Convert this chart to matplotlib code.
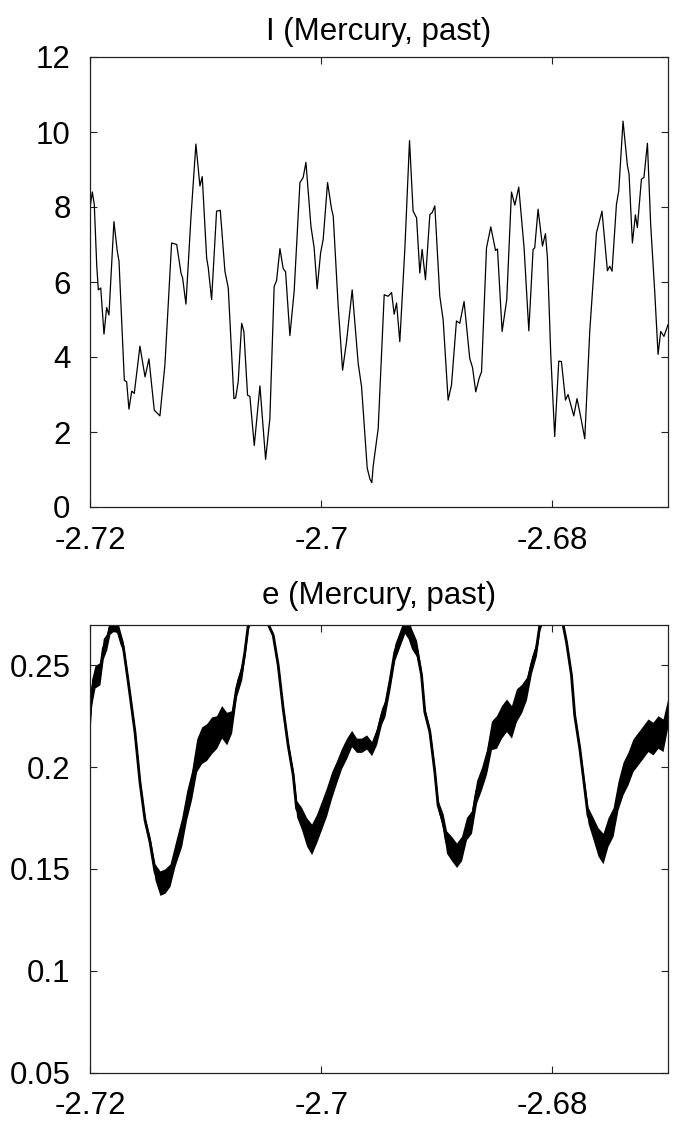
import matplotlib
matplotlib.use("Agg")
import matplotlib.pyplot as plt
import numpy as np

plt.rcParams['font.family'] = ['Liberation Sans', 'DejaVu Sans']

# ---------------- data: inclination I (degrees) ----------------
t_I = [-2.72000, -2.71980, -2.71963, -2.71942, -2.71928, -2.71907, -2.71879, -2.71856,
       -2.71836, -2.71793, -2.71764, -2.71749, -2.71703, -2.71683, -2.71663, -2.71639,
       -2.71617, -2.71568, -2.71524, -2.71490, -2.71444, -2.71395, -2.71352, -2.71294,
       -2.71250, -2.71213, -2.71199, -2.71170, -2.71127, -2.71084, -2.71049, -2.71029,
       -2.70991, -2.70977, -2.70948, -2.70905, -2.70873, -2.70833, -2.70804, -2.70755,
       -2.70740, -2.70718, -2.70688, -2.70669, -2.70637, -2.70617, -2.70579, -2.70530,
       -2.70481, -2.70444, -2.70407, -2.70386, -2.70357, -2.70329, -2.70308, -2.70271,
       -2.70234, -2.70184, -2.70156, -2.70132, -2.70089, -2.70061, -2.70035, -2.70005,
       -2.69983, -2.69945, -2.69910, -2.69896, -2.69853, -2.69815, -2.69781, -2.69732,
       -2.69680, -2.69651, -2.69602, -2.69579, -2.69562, -2.69550, -2.69507, -2.69455,
       -2.69421, -2.69391, -2.69369, -2.69348, -2.69320, -2.69276, -2.69236, -2.69205,
       -2.69175, -2.69147, -2.69127, -2.69098, -2.69060, -2.69040, -2.69017, -2.68974,
       -2.68945, -2.68902, -2.68873, -2.68830, -2.68801, -2.68764, -2.68715, -2.68691,
       -2.68663, -2.68634, -2.68613, -2.68570, -2.68533, -2.68492, -2.68475, -2.68435,
       -2.68395, -2.68354, -2.68325, -2.68291, -2.68245, -2.68204, -2.68167, -2.68153,
       -2.68124, -2.68086, -2.68060, -2.68043, -2.68014, -2.67980, -2.67945, -2.67922,
       -2.67887, -2.67865, -2.67815, -2.67787, -2.67755, -2.67720, -2.67677, -2.67619,
       -2.67571, -2.67524, -2.67504, -2.67484, -2.67446, -2.67426, -2.67389, -2.67351,
       -2.67337, -2.67308, -2.67282, -2.67265, -2.67230, -2.67208, -2.67178, -2.67150,
       -2.67115, -2.67086, -2.67063, -2.67035, -2.67000]
I_vals = [7.98, 8.40, 8.07, 6.46, 5.79, 5.84, 4.61, 5.32,
          5.12, 7.61, 6.82, 6.55, 3.38, 3.34, 2.61, 3.09,
          3.03, 4.29, 3.47, 3.95, 2.58, 2.43, 3.79, 7.04,
          7.00, 6.24, 6.11, 5.41, 7.71, 9.68, 8.56, 8.81,
          6.64, 6.38, 5.53, 7.89, 7.91, 6.29, 5.84, 2.89,
          2.91, 3.34, 4.90, 4.68, 2.98, 2.95, 1.64, 3.23,
          1.27, 2.36, 5.88, 6.04, 6.89, 6.36, 6.27, 4.57,
          5.75, 8.65, 8.79, 9.19, 7.49, 6.91, 5.82, 6.78,
          7.13, 8.65, 7.94, 7.76, 5.35, 3.65, 4.41, 5.79,
          3.83, 3.21, 1.04, 0.75, 0.65, 1.10, 2.09, 5.66,
          5.62, 5.72, 5.14, 5.44, 4.41, 6.91, 9.77, 7.89,
          7.71, 6.24, 6.87, 6.06, 7.80, 7.85, 8.03, 5.62,
          4.99, 2.85, 3.25, 4.96, 4.90, 5.48, 3.96, 3.72,
          3.07, 3.43, 3.61, 6.91, 7.47, 6.84, 6.88, 4.68,
          5.53, 8.40, 8.05, 8.53, 6.91, 4.70, 6.87, 6.91,
          7.94, 6.96, 7.29, 6.64, 4.05, 1.88, 3.89, 3.88,
          2.85, 3.00, 2.43, 2.89, 2.40, 1.82, 4.68, 7.31,
          7.89, 6.30, 6.42, 6.29, 8.07, 8.43, 10.29, 9.10,
          8.88, 7.04, 7.79, 7.45, 8.74, 8.79, 9.70, 7.54,
          5.75, 4.07, 4.68, 4.55, 4.86]

# ---------------- data: eccentricity e (mean and noise half-band) ----------------
t_e = [-2.72000, -2.71985, -2.71957, -2.71914, -2.71885, -2.71856, -2.71827, -2.71799,
       -2.71769, -2.71741, -2.71712, -2.71669, -2.71611, -2.71568, -2.71524, -2.71481,
       -2.71438, -2.71395, -2.71352, -2.71308, -2.71265, -2.71207, -2.71164, -2.71121,
       -2.71077, -2.71034, -2.70991, -2.70948, -2.70905, -2.70861, -2.70818, -2.70775,
       -2.70732, -2.70688, -2.70660, -2.70631, -2.70548, -2.70458, -2.70415, -2.70372,
       -2.70329, -2.70286, -2.70242, -2.70213, -2.70170, -2.70126, -2.70083, -2.70040,
       -2.69997, -2.69954, -2.69910, -2.69867, -2.69824, -2.69781, -2.69737, -2.69694,
       -2.69651, -2.69608, -2.69564, -2.69521, -2.69478, -2.69449, -2.69406, -2.69363,
       -2.69320, -2.69277, -2.69248, -2.69219, -2.69175, -2.69132, -2.69104, -2.69060,
       -2.69017, -2.68989, -2.68945, -2.68916, -2.68873, -2.68829, -2.68786, -2.68743,
       -2.68700, -2.68656, -2.68613, -2.68570, -2.68527, -2.68484, -2.68440, -2.68397,
       -2.68354, -2.68311, -2.68267, -2.68224, -2.68181, -2.68138, -2.68109, -2.68014,
       -2.67908, -2.67878, -2.67835, -2.67807, -2.67763, -2.67720, -2.67692, -2.67648,
       -2.67605, -2.67562, -2.67519, -2.67475, -2.67432, -2.67389, -2.67346, -2.67303,
       -2.67259, -2.67216, -2.67173, -2.67130, -2.67086, -2.67043, -2.67000]
e_mid = [0.2254, 0.2369, 0.2443, 0.2459, 0.2582, 0.2614, 0.2688, 0.2700,
         0.2696, 0.2639, 0.2590, 0.2418, 0.2172, 0.1927, 0.1739, 0.1632,
         0.1485, 0.1430, 0.1440, 0.1469, 0.1567, 0.1681, 0.1812, 0.1911,
         0.2058, 0.2107, 0.2123, 0.2156, 0.2172, 0.2222, 0.2189, 0.2222,
         0.2386, 0.2467, 0.2565, 0.2696, 0.2840, 0.2700, 0.2647, 0.2500,
         0.2287, 0.2107, 0.1960, 0.1796, 0.1747, 0.1681, 0.1645, 0.1698,
         0.1763, 0.1829, 0.1911, 0.1976, 0.2042, 0.2091, 0.2140, 0.2107,
         0.2107, 0.2123, 0.2091, 0.2150, 0.2250, 0.2287, 0.2418, 0.2565,
         0.2631, 0.2696, 0.2680, 0.2631, 0.2582, 0.2451, 0.2271, 0.2172,
         0.1976, 0.1812, 0.1730, 0.1632, 0.1600, 0.1567, 0.1600, 0.1698,
         0.1730, 0.1878, 0.1944, 0.2025, 0.2156, 0.2172, 0.2222, 0.2254,
         0.2222, 0.2304, 0.2336, 0.2386, 0.2500, 0.2582, 0.2696, 0.2830,
         0.2700, 0.2614, 0.2451, 0.2254, 0.2091, 0.1894, 0.1763, 0.1698,
         0.1632, 0.1600, 0.1681, 0.1730, 0.1861, 0.1944, 0.1993, 0.2058,
         0.2091, 0.2123, 0.2156, 0.2140, 0.2172, 0.2156, 0.2271]
e_half = [0.0085, 0.0065, 0.0055, 0.0055, 0.0050, 0.0040, 0.0035, 0.0035,
          0.0035, 0.0035, 0.0025, 0.0015, 0.0012, 0.0012, 0.0015, 0.0025,
          0.0040, 0.0060, 0.0060, 0.0055, 0.0055, 0.0070, 0.0070, 0.0070,
          0.0080, 0.0090, 0.0090, 0.0090, 0.0080, 0.0080, 0.0080, 0.0055,
          0.0040, 0.0040, 0.0025, 0.0020, 0.0020, 0.0010, 0.0010, 0.0010,
          0.0012, 0.0015, 0.0025, 0.0040, 0.0055, 0.0070, 0.0075, 0.0070,
          0.0070, 0.0070, 0.0065, 0.0055, 0.0050, 0.0050, 0.0040, 0.0035,
          0.0035, 0.0035, 0.0035, 0.0040, 0.0040, 0.0040, 0.0040, 0.0040,
          0.0040, 0.0040, 0.0050, 0.0050, 0.0040, 0.0025, 0.0020, 0.0020,
          0.0020, 0.0025, 0.0040, 0.0055, 0.0060, 0.0060, 0.0060, 0.0055,
          0.0055, 0.0055, 0.0055, 0.0060, 0.0070, 0.0080, 0.0080, 0.0080,
          0.0080, 0.0080, 0.0070, 0.0055, 0.0040, 0.0035, 0.0025, 0.0020,
          0.0010, 0.0010, 0.0010, 0.0012, 0.0015, 0.0025, 0.0040, 0.0055,
          0.0070, 0.0075, 0.0070, 0.0070, 0.0070, 0.0080, 0.0080, 0.0080,
          0.0080, 0.0080, 0.0080, 0.0080, 0.0080, 0.0080, 0.0070]

x_ticks = [-2.72, -2.70, -2.68]
x_ticklabels = ['-2.72', '-2.7', '-2.68']
I_ticks = [0, 2, 4, 6, 8, 10, 12]
I_ticklabels = ['0', '2', '4', '6', '8', '10', '12']
e_ticks = [0.05, 0.10, 0.15, 0.20, 0.25]
e_ticklabels = ['0.05', '0.1', '0.15', '0.2', '0.25']

FS = 22.5
W, H = 675, 1125
fig = plt.figure(figsize=(W / 100, H / 100), dpi=100)

def px_axes(l, t, r, b):
    return fig.add_axes([l / W, 1 - b / H, (r - l) / W, (b - t) / H])

ax1 = px_axes(90, 57, 668, 507)
ax2 = px_axes(90, 624.5, 668, 1072.5)

for ax in (ax1, ax2):
    for s in ax.spines.values():
        s.set_linewidth(0.9)
        s.set_color('#222222')
    ax.tick_params(direction='in', length=5, width=0.8, top=True, right=True,
                   labelsize=FS, color='#222222')
    ax.tick_params(axis='y', pad=14)
    ax.tick_params(axis='x', pad=13.5)
    ax.set_xlim(-2.72, -2.67)
    ax.set_xticks(x_ticks)
    ax.set_xticklabels(x_ticklabels)

ax1.plot(t_I, I_vals, color='black', lw=0.9)
ax1.set_ylim(0, 12)
ax1.set_yticks(I_ticks)
ax1.set_yticklabels(I_ticklabels)

e_mid_a = np.array(e_mid)
e_half_a = np.array(e_half)
ax2.fill_between(t_e, e_mid_a - e_half_a, e_mid_a + e_half_a, color='black', lw=0)
ax2.plot(t_e, e_mid, color='black', lw=2.0)
ax2.set_ylim(0.05, 0.27)
ax2.set_yticks(e_ticks)
ax2.set_yticklabels(e_ticklabels)

fig.text(379 / W, 1 - 32 / H, 'I (Mercury, past)', ha='center', va='center', fontsize=FS)
fig.text(379 / W, 1 - 596 / H, 'e (Mercury, past)', ha='center', va='center', fontsize=FS)

fig.savefig('out.png', dpi=100)
